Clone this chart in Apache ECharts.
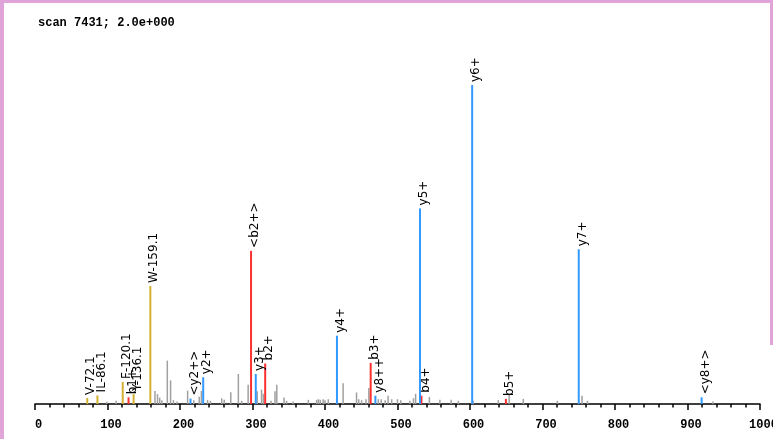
<!DOCTYPE html>
<html>
<head>
<meta charset="utf-8">
<script src="https://cdn.jsdelivr.net/npm/echarts@6/dist/echarts.min.js"></script>
<style>
  html, body { margin: 0; padding: 0; background: #fff; overflow: hidden; }
  #chart { position: absolute; left: 0; top: 0; width: 773px; height: 439px; background: #fff; }
  .pink { position: absolute; background: #e0a4d8; }
</style>
</head>
<body>
<div id="chart"></div>
<div class="pink" style="left:0;top:0;width:4px;height:439px"></div>
<div class="pink" style="left:0;top:0;width:773px;height:3px"></div>
<div class="pink" style="left:770px;top:0;width:3px;height:345px"></div>
<script>
// ---- data ----
const titleText = 'scan 7431; 2.0e+000';
const xTicks = [0, 100, 200, 300, 400, 500, 600, 700, 800, 900, 1000];

// y ions (blue)
const yMz     = [214.5, 232, 304.5, 416.5, 469.5, 531, 603, 750, 919.5];
const yInt    = [1.7, 8.4, 9.4, 21.4, 2.6, 61.3, 100, 48.5, 2.1];
const yLabels = ['<y2+>', 'y2+', 'y3+', 'y4+', 'y8++', 'y5+', 'y6+', 'y7+', '<y8+>'];

// b ions (red)
const bMz     = [129, 298, 317.5, 463, 533, 649.5];
const bInt    = [2.1, 48.0, 12.7, 12.9, 2.6, 1.6];
const bLabels = ['b1+', '<b2+>', 'b2+', 'b3+', 'b4+', 'b5+'];

// immonium ions (gold)
const iMz     = [72.1, 86.1, 121, 136, 159.1];
const iInt    = [1.9, 2.7, 6.9, 3.1, 37.0];
const iLabels = ['V-72.1', 'IL-86.1', 'F-120.1', 'Y-136.1', 'W-159.1'];

// unassigned peaks (grey)
const gMz  = [99, 112, 165.5, 169, 172, 175, 182.5, 187, 191, 196, 210.5, 219, 226.5, 229.5, 238, 242,
              257.5, 261, 270, 280.5, 285, 294, 306.5, 312.5, 315, 325.5, 331, 333.5, 343.5, 347, 356,
              377, 388.5, 391, 393.5, 397.5, 400, 404.5, 425, 443.5, 446.5, 450.5, 456.5, 460.5,
              473.5, 477.5, 483, 487, 492, 500, 504.5, 517, 522, 525, 544, 558.5, 574, 584, 604.5,
              639, 654, 673.5, 720.5, 754.5, 762, 935];
const gInt = [0.7, 1.0, 4.1, 3.1, 2.0, 1.2, 13.6, 7.4, 1.2, 0.8, 4.2, 1.2, 2.3, 4.1, 1.3, 1.0,
              1.8, 1.3, 3.7, 9.4, 1.0, 6.0, 4.0, 4.5, 3.2, 1.0, 4.0, 6.0, 2.0, 1.0, 0.8,
              1.3, 1.3, 1.5, 1.3, 1.5, 1.2, 1.5, 6.5, 3.6, 1.5, 1.2, 1.5, 5.0,
              1.5, 1.5, 1.2, 2.6, 1.5, 1.5, 1.2, 1.0, 1.8, 3.2, 2.2, 1.3, 1.3, 1.0, 1.0,
              1.2, 3.0, 1.6, 1.0, 2.6, 1.0, 0.8];

// ---- chart ----
const chart = echarts.init(document.getElementById('chart'), null, { renderer: 'canvas' });

function peakSeries(name, mzs, ints, labels, color, width, z) {
  return {
    type: 'custom',
    name: name,
    z: z,
    silent: true,
    clip: false,
    data: mzs.map((m, i) => [m, ints[i]]),
    encode: { x: 0, y: 1 },
    renderItem: function (params, api) {
      const x = api.value(0), y = api.value(1);
      const p0 = api.coord([x, 0]);
      const p1 = api.coord([x, y]);
      const children = [{
        type: 'line',
        shape: { x1: p0[0], y1: p0[1], x2: p1[0], y2: p1[1] },
        style: { stroke: color, lineWidth: width }
      }];
      const lbl = labels ? labels[params.dataIndex] : '';
      if (lbl) {
        children.push({
          type: 'text',
          x: p1[0] + 4,
          y: p1[1] - 3,
          rotation: Math.PI / 2,
          style: {
            text: lbl,
            font: '12px "DejaVu Sans"',
            fill: '#000',
            align: 'left',
            verticalAlign: 'middle'
          }
        });
      }
      return { type: 'group', children: children };
    }
  };
}

const option = {
  animation: false,
  backgroundColor: '#fff',
  title: {
    text: titleText,
    left: 33,
    top: 12,
    textStyle: { fontFamily: 'Liberation Mono', fontWeight: 'bold', fontSize: 12, color: '#000' }
  },
  grid: { left: 35, right: 13, top: 85, bottom: 35, containLabel: false, outerBoundsMode: 'none' },
  xAxis: {
    type: 'value',
    min: xTicks[0],
    max: xTicks[xTicks.length - 1],
    interval: 100,
    splitLine: { show: false },
    axisLine: { show: true, onZero: false, lineStyle: { color: '#000', width: 1.5 } },
    axisTick: { show: true, length: 6, lineStyle: { color: '#000', width: 1.5 } },
    minorTick: { show: true, splitNumber: 5, length: 3.5, lineStyle: { color: '#000', width: 1.5 } },
    axisLabel: {
      margin: 15,
      padding: [0, 0, 0, 7],
      fontFamily: 'Liberation Mono',
      fontWeight: 'bold',
      fontSize: 12,
      color: '#000',
      showMinLabel: true,
      showMaxLabel: true,
      hideOverlap: false,
      formatter: function (v) { return String(v); }
    }
  },
  yAxis: {
    type: 'value',
    min: 0,
    max: 100,
    show: false
  },
  series: [
    peakSeries('other', gMz, gInt, null, '#a0a0a0', 1.5, 1),
    peakSeries('immonium', iMz, iInt, iLabels, '#d4b032', 2, 2),
    peakSeries('b', bMz, bInt, bLabels, '#ff3030', 2, 3),
    peakSeries('y', yMz, yInt, yLabels, '#3399ff', 2, 4)
  ]
};
chart.setOption(option);
</script>
</body>
</html>
